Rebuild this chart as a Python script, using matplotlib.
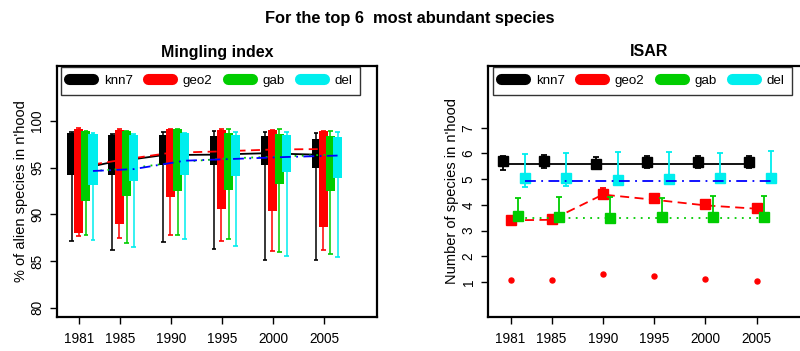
import matplotlib
matplotlib.use("Agg")
import matplotlib.pyplot as plt
from matplotlib.lines import Line2D
import numpy as np

plt.rcParams['font.family'] = ['Liberation Sans', 'DejaVu Sans']

years = [1981, 1985, 1990, 1995, 2000, 2005]
names = ['knn7', 'geo2', 'gab', 'del']
colors = ['#000000', '#FF0000', '#00CD00', '#00EEEE']
line_colors = ['#000000', '#FF0000', '#00CD00', '#0000FF']

# Mingling index boxes (% of alien species in n'hood)
knn7_q1 = [94.2, 94.25, 95.3, 95.25, 95.25, 95.0]
knn7_q3 = [98.75, 98.5, 98.55, 98.4, 98.4, 98.05]
knn7_lo = [87.1, 86.2, 87.0, 86.25, 85.1, 85.1]
knn7_hi = [98.8, 98.6, 98.85, 98.9, 98.85, 98.7]
knn7_mean = [94.7, 95.6, 96.35, 96.4, 96.55, 96.4]

geo2_q1 = [87.95, 89.0, 91.9, 90.55, 90.35, 88.6]
geo2_q3 = [99.2, 99.0, 99.1, 99.0, 99.0, 98.9]
geo2_lo = [87.7, 87.5, 87.75, 87.1, 86.1, 86.2]
geo2_hi = [99.25, 99.1, 99.15, 99.15, 99.05, 98.95]
geo2_mean = [95.1, 95.8, 96.6, 96.75, 96.95, 97.0]

gab_q1 = [91.4, 92.0, 92.55, 92.65, 93.3, 92.45]
gab_q3 = [98.9, 98.9, 99.1, 98.7, 98.65, 98.45]
gab_lo = [87.8, 86.95, 87.8, 87.4, 85.95, 85.7]
gab_hi = [98.95, 98.95, 99.15, 99.15, 99.15, 98.95]
gab_mean = [94.6, 94.9, 95.6, 96.0, 96.2, 96.4]

del_q1 = [93.2, 93.6, 94.25, 94.1, 94.5, 93.85]
del_q3 = [98.65, 98.5, 98.7, 98.5, 98.5, 98.3]
del_lo = [87.2, 86.5, 87.35, 86.65, 85.55, 85.4]
del_hi = [98.7, 98.6, 98.75, 98.85, 98.85, 98.85]
del_mean = [94.65, 94.85, 95.75, 95.95, 96.15, 96.3]

# ISAR (number of species in n'hood)
isar_knn7 = [5.7, 5.7, 5.6, 5.67, 5.68, 5.67]
isar_knn7_lo = [5.36, 5.45, 5.42, 5.45, 5.45, 5.45]
isar_knn7_hi = [5.9, 5.92, 5.85, 5.9, 5.9, 5.9]
isar_knn7_line = [5.57, 5.57, 5.57, 5.57, 5.57, 5.57]

isar_geo2 = [3.41, 3.45, 4.42, 4.26, 4.05, 3.89]
isar_geo2_lo = [3.35, 3.4, 4.3, 4.15, 3.95, 3.8]
isar_geo2_hi = [3.5, 3.55, 4.64, 4.35, 4.2, 4.02]
isar_geo2_line = [3.4, 3.42, 4.4, 4.2, 3.98, 3.85]
isar_geo2_dots = [1.08, 1.08, 1.31, 1.245, 1.13, 1.04]

isar_gab = [3.58, 3.54, 3.49, 3.54, 3.52, 3.54]
isar_gab_lo = [3.45, 3.45, 3.42, 3.45, 3.44, 3.42]
isar_gab_hi = [4.26, 4.29, 4.29, 4.26, 4.33, 4.33]
isar_gab_line = [3.5, 3.5, 3.5, 3.5, 3.5, 3.5]

isar_del = [5.06, 5.04, 4.97, 5.0, 5.06, 5.06]
isar_del_lo = [4.71, 4.73, 4.77, 4.9, 4.92, 4.93]
isar_del_hi = [5.99, 6.0, 6.07, 6.07, 6.03, 6.08]
isar_del_line = [4.92, 4.92, 4.92, 4.92, 4.92, 4.92]

box_offsets = [-0.77, -0.07, 0.63, 1.33]
pt_offsets = [-0.7, 0.0, 0.72, 1.43]
styles = ['-', (0, (5, 3)), (0, (1, 3)), (0, (6, 3, 1, 3))]

fig = plt.figure(figsize=(8.0, 3.51), dpi=100)
ax1 = fig.add_axes([57/800, 1-317/351, 320/800, 251/351])
ax2 = fig.add_axes([488/800, 1-317/351, 322/800, 251/351])

yr = np.array(years, dtype=float)
box_sets = [
    (knn7_q1, knn7_q3, knn7_lo, knn7_hi, knn7_mean),
    (geo2_q1, geo2_q3, geo2_lo, geo2_hi, geo2_mean),
    (gab_q1, gab_q3, gab_lo, gab_hi, gab_mean),
    (del_q1, del_q3, del_lo, del_hi, del_mean),
]
z = 2
for i, (q1, q3, lo, hi, mn) in enumerate(box_sets):
    x = yr + box_offsets[i]
    q1 = np.array(q1); q3 = np.array(q3)
    ax1.vlines(x, lo, q1, color=colors[i], lw=1.1, zorder=z)
    ax1.vlines(x, q3, hi, color=colors[i], lw=1.1, zorder=z)
    ax1.hlines(lo, x - 0.22, x + 0.22, color=colors[i], lw=1.2, zorder=z)
    ax1.hlines(hi, x - 0.22, x + 0.22, color=colors[i], lw=1.2, zorder=z)
    ax1.bar(x, q3 - q1, bottom=q1, width=0.9, color=colors[i], zorder=z + 0.5)
    ax1.plot(x, mn, color=line_colors[i], ls=styles[i], lw=1.3, zorder=z + 0.8)
    z += 1

ax1.set_xlim(1978.8, 2010.2)
ax1.set_ylim(79.0, 105.9)
ax1.set_yticks([80, 85, 90, 95, 100])
ax1.set_ylabel("% of alien species in n'hood", fontsize=10.5, labelpad=2)

isar_sets = [
    (isar_knn7, isar_knn7_lo, isar_knn7_hi, isar_knn7_line),
    (isar_geo2, isar_geo2_lo, isar_geo2_hi, isar_geo2_line),
    (isar_gab, isar_gab_lo, isar_gab_hi, isar_gab_line),
    (isar_del, isar_del_lo, isar_del_hi, isar_del_line),
]
z = 2
for i, (m, lo, hi, ln) in enumerate(isar_sets):
    x = yr + pt_offsets[i]
    m = np.array(m)
    err = [m - np.array(lo), np.array(hi) - m]
    ax2.errorbar(x, m, yerr=err, fmt='none', ecolor=colors[i], elinewidth=1.3,
                 capsize=2.2, capthick=1.3, zorder=z)
    ax2.plot(x, m, ls='none', marker='s', ms=7, color=colors[i], zorder=z + 0.5)
    ax2.plot(x, ln, color=line_colors[i], ls=styles[i], lw=1.3, zorder=z + 0.8)
    z += 1
ax2.plot(yr, isar_geo2_dots, ls='none', marker='o', ms=3.6, color='#FF0000', zorder=10)

ax2.set_xlim(1978.8, 2010.2)
ax2.set_ylim(-0.36, 9.4)
ax2.set_yticks([1, 2, 3, 4, 5, 6, 7])
ax2.set_ylabel("Number of species in n'hood", fontsize=10.5, labelpad=2)

handles = [Line2D([], [], color=c, lw=8, solid_capstyle='round') for c in colors]
for ax, left in [(ax1, 61), (ax2, 493)]:
    ax.set_xticks(years)
    ax.tick_params(axis='x', labelsize=9.8, length=5, width=1, pad=6)
    ax.tick_params(axis='y', labelsize=9.8, length=5, width=1, pad=4, labelrotation=90)
    for lab in ax.get_yticklabels():
        lab.set_va('center')
    for sp in ax.spines.values():
        sp.set_linewidth(1.6)
    leg = ax.legend(handles, names, loc='upper left', bbox_to_anchor=(left/800, 1-66.5/351),
                    bbox_transform=fig.transFigure, ncol=4, fontsize=9.6, frameon=True,
                    fancybox=False, edgecolor='black', borderpad=0.6, borderaxespad=0,
                    handlelength=1.8, handletextpad=0.8, columnspacing=1.15)
    leg.get_frame().set_linewidth(1.0)
    leg.set_zorder(20)

fig.text(217/800, 1-52/351, "Mingling index", ha='center', va='center',
         fontsize=11.5, fontweight='bold')
fig.text(649/800, 1-52/351, "ISAR", ha='center', va='center',
         fontsize=11.5, fontweight='bold')
fig.text(410/800, 1-18/351, "For the top 6  most abundant species", ha='center', va='center',
         fontsize=11.8, fontweight='bold')

fig.savefig("out.png", dpi=100)
